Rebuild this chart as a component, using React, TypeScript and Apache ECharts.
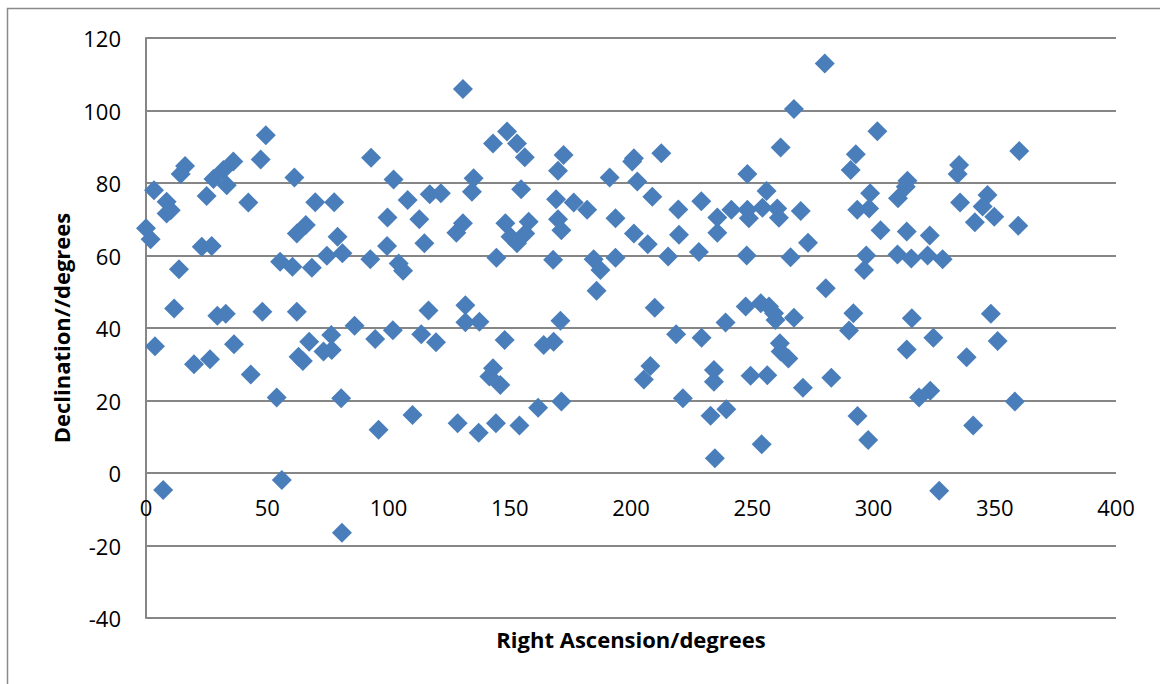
import React, { useEffect, useRef } from "react";
import * as echarts from "echarts";

// Right Ascension (degrees)
const ra: number[] = [
  0, 1.9, 3.3, 8.5, 8.5, 10.2, 13.6, 14.3, 16.1, 25, 23, 27.1, 27.8, 33.3, 31.9, 36, 42.2, 47.3, 49.4, 55.3,
  60.4, 61.2, 62.2, 65.9, 68.4, 69.8, 74.6, 77.6, 79, 81, 92.5, 92.8,
  3.7, 7.1, 11.6, 19.8, 26.4, 29.4, 32.9, 36.3, 43.2, 48, 53.9, 56, 62.2, 62.9, 64.7, 67.3, 73.2, 76.6, 76.4,
  80.5, 80.8, 86, 94.5, 95.9,
  130.7, 102.1, 107.9, 99.6, 117, 121.6, 112.7, 99.4, 114.8, 104.2, 106, 135.1, 134.4, 128, 130.7, 143.1,
  148.9, 153, 156.2, 154.7, 144.5, 148.2, 150.3, 153, 156.4, 157.8, 172.2, 169.9, 169.1, 169.9, 171.3, 176.4,
  181.9, 167.9, 191.2, 193.6, 184.6, 187.4, 193.6,
  101.8, 109.9, 113.5, 116.5, 119.6, 128.5, 131.7, 131.7, 137.2, 137.5, 144.3, 143.1, 141.6, 146.1, 147.9,
  154, 161.7, 164, 168.1, 170.9, 171.3, 185.8,
  279.9, 267.2, 261.7, 212.5, 200.5, 201.2, 202.6, 208.8, 248, 290.6, 292.7, 201.2, 206.9, 219.5, 219.8,
  215.3, 229, 228, 235.6, 235.6, 241.4, 248, 248.6, 254.2, 255.9, 260.3, 261, 270, 273, 247.7, 265.8, 293.3,
  280.3,
  209.8, 218.6, 229.1, 239, 247.3, 253.5, 256.9, 259, 259.6, 267.2, 291.7, 289.9, 208, 205.3, 221.4, 234.2,
  234.2, 232.8, 239.3, 234.6, 249.3, 256.2, 253.9, 261.4, 261.7, 264.9, 270.9, 282.6, 293.4,
  301.6, 360.1, 335.3, 334.7, 314, 313.3, 310.1, 298.6, 298.2, 302.9, 313.7, 323.2, 297, 296.1, 309.9,
  315.6, 322.3, 328.5, 335.7, 347, 345, 349.8, 341.8, 359.7,
  297.8, 315.8, 324.7, 313.7, 318.8, 323.4, 327.1, 338.4, 348.4, 351.2, 341.1, 358.3,
];

// Declination (degrees)
const dec: number[] = [
  67.5, 64.5, 78, 74.8, 71.6, 72.5, 56.2, 82.5, 84.7, 76.4, 62.4, 62.6, 81.1, 79.4, 83.6, 85.9, 74.6, 86.5, 93.2, 58.3,
  56.9, 81.5, 66.1, 68.4, 56.6, 74.7, 59.9, 74.7, 65.2, 60.6, 59, 87,
  35, -4.7, 45.4, 30, 31.4, 43.4, 43.9, 35.5, 27.2, 44.5, 20.8, -1.9, 44.5, 32.1, 30.9, 36.2, 33.5, 33.9, 38.1,
  20.6, -16.5, 40.6, 37, 11.9,
  105.9, 81, 75.3, 70.5, 76.9, 77.2, 70, 62.6, 63.4, 57.8, 55.8, 81.3, 77.6, 66.3, 68.9, 90.9,
  94.2, 90.9, 87.1, 78.3, 59.4, 68.9, 65.2, 63.4, 66.1, 69.3, 87.7, 83.4, 75.5, 70, 67, 74.6,
  72.6, 58.8, 81.5, 70.3, 59, 56, 59.4,
  39.4, 16, 38.3, 44.8, 36.1, 13.7, 46.3, 41.6, 11.1, 41.7, 13.7, 28.9, 26.6, 24.3, 36.7,
  13.1, 18, 35.3, 36.2, 42, 19.7, 50.3,
  113, 100.4, 89.8, 88.2, 85.9, 86.8, 80.4, 76.2, 82.5, 83.6, 87.9, 66.1, 63.1, 72.7, 65.7,
  59.7, 75, 61, 70.5, 66.3, 72.6, 72.6, 70.3, 73.2, 77.8, 73, 70.4, 72.3, 63.5, 60, 59.5, 72.6,
  51,
  45.6, 38.3, 37.3, 41.5, 45.9, 46.8, 45.9, 44.1, 42.2, 42.8, 44.1, 39.3, 29.5, 25.8, 20.6, 28.4,
  25.2, 15.8, 17.6, 4.1, 26.8, 27, 7.9, 35.8, 33.5, 31.6, 23.5, 26.3, 15.7,
  94.3, 88.8, 85, 82.5, 80.6, 79, 75.8, 77.2, 73, 67, 66.6, 65.5, 60, 56, 60.3,
  59.2, 60, 59, 74.6, 76.7, 73.5, 70.7, 69.2, 68.2,
  9.1, 42.7, 37.3, 34.1, 20.8, 22.7, -4.9, 31.9, 43.9, 36.4, 13.1, 19.7,
];

const xTitle = "Right Ascension/degrees";
const yTitle = "Declination//degrees";

const FONT = "'Open Sans', 'Liberation Sans', sans-serif";

export default function App() {
  const ref = useRef<HTMLDivElement>(null);
  useEffect(() => {
    document.body.style.margin = "0";
    const chart = echarts.init(ref.current!, null, { renderer: "svg" });
    const points = ra.map((x, i) => [x, dec[i]]);
    chart.setOption({
      animation: false,
      backgroundColor: "#ffffff",
      textStyle: { fontFamily: FONT },
      grid: {
        left: 146,
        top: 38,
        right: 44,
        bottom: 66,
        containLabel: false,
        outerBoundsMode: "none",
      },
      graphic: [
        {
          type: "rect",
          z: -10,
          silent: true,
          shape: { x: 7.5, y: 8.5, width: 1300, height: 1000 },
          style: { fill: "none", stroke: "#8a8a8a", lineWidth: 1.5 },
        },
      ],
      xAxis: {
        type: "value",
        min: 0,
        max: 400,
        interval: 50,
        position: "bottom",
        name: xTitle,
        nameLocation: "middle",
        nameGap: 10,
        nameTextStyle: {
          fontFamily: FONT,
          fontSize: 22,
          fontWeight: "bold",
          color: "#000",
          verticalAlign: "top",
        },
        axisLine: { show: false, onZero: false },
        axisTick: { show: false },
        splitLine: { show: false },
        axisLabel: {
          inside: true,
          margin: 100,
          fontSize: 22,
          color: "#000",
          fontFamily: FONT,
        },
      },
      yAxis: {
        type: "value",
        min: -40,
        max: 120,
        interval: 20,
        name: yTitle,
        nameLocation: "middle",
        nameGap: 72,
        nameRotate: 90,
        nameTextStyle: { fontFamily: FONT, fontSize: 22, fontWeight: "bold", color: "#000" },
        axisLine: { show: true, onZero: false, lineStyle: { color: "#868686", width: 2 } },
        axisTick: { show: false },
        splitLine: { show: true, lineStyle: { color: "#868686", width: 2 } },
        axisLabel: { margin: 25, fontSize: 22, color: "#000", fontFamily: FONT },
      },
      series: [
        {
          type: "scatter",
          symbol: "diamond",
          symbolSize: 20,
          itemStyle: { color: "#4A7EBB", opacity: 1 },
          data: points,
        },
      ],
    });
    return () => chart.dispose();
  }, []);
  return <div ref={ref} style={{ width: 1160, height: 684 }} />;
}
